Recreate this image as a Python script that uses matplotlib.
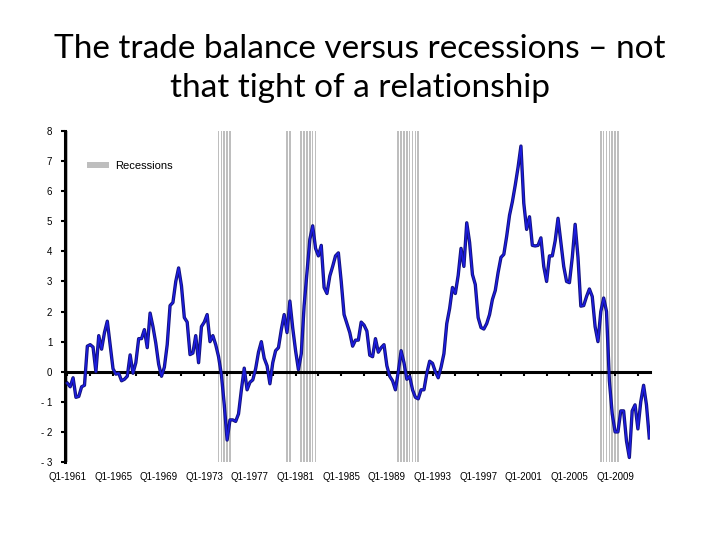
import matplotlib
matplotlib.use('Agg')
import matplotlib.pyplot as plt

# Trade balance (% of GDP), quarterly from Q1-1961
balance = [
    -0.38, -0.5, -0.2, -0.85, -0.82, -0.5, -0.45, 0.85, 0.9, 0.82,
    0.0, 1.2, 0.75, 1.3, 1.68, 0.9, 0.1, -0.08, -0.05, -0.3,
    -0.25, -0.15, 0.56, -0.05, 0.3, 1.1, 1.1, 1.4, 0.8, 1.95,
    1.5, 0.95, 0.25, -0.15, 0.15, 0.9, 2.2, 2.3, 3.0, 3.45,
    2.85, 1.8, 1.65, 0.57, 0.62, 1.2, 0.3, 1.5, 1.65, 1.9,
    1.0, 1.2, 0.9, 0.5, -0.1, -1.1, -2.27, -1.6, -1.6, -1.65,
    -1.4, -0.6, 0.12, -0.6, -0.35, -0.27, 0.1, 0.65, 1.0, 0.45,
    0.2, -0.4, 0.3, 0.7, 0.8, 1.4, 1.9, 1.3, 2.35, 1.45,
    0.7, 0.07, 0.6, 2.2, 3.3, 4.4, 4.85, 4.1, 3.85, 4.2,
    2.8, 2.6, 3.18, 3.5, 3.85, 3.95, 3.0, 1.9, 1.6, 1.3,
    0.85, 1.05, 1.05, 1.65, 1.55, 1.35, 0.55, 0.5, 1.1, 0.65,
    0.8, 0.9, 0.2, -0.15, -0.3, -0.6, 0.0, 0.7, 0.3, -0.25,
    -0.15, -0.6, -0.85, -0.9, -0.6, -0.6, -0.05, 0.35, 0.28, 0.0,
    -0.2, 0.15, 0.6, 1.6, 2.1, 2.8, 2.6, 3.2, 4.1, 3.5,
    4.95, 4.3, 3.23, 2.9, 1.8, 1.47, 1.42, 1.6, 1.9, 2.4,
    2.7, 3.3, 3.8, 3.9, 4.5, 5.2, 5.65, 6.2, 6.8, 7.5,
    5.6, 4.73, 5.15, 4.2, 4.18, 4.2, 4.45, 3.5, 3.0, 3.85,
    3.85, 4.35, 5.1, 4.3, 3.5, 3.0, 2.96, 3.8, 4.9, 3.8,
    2.18, 2.2, 2.5, 2.75, 2.5, 1.5, 1.0, 2.0, 2.45, 2.0,
    -0.3, -1.4, -2.0, -2.0, -1.3, -1.3, -2.3, -2.85, -1.3, -1.1,
    -1.9, -1.0, -0.45, -1.1, -2.2,
]
quarters = list(range(len(balance)))

# quarters (index from Q1-1961) flagged as recession
recession_q = [0, 53, 54, 55, 56, 57, 77, 78, 82, 83, 84, 85, 86, 87,
               116, 117, 118, 119, 120, 121, 122, 123,
               187, 188, 189, 190, 191, 192, 193]

y_min, y_max = -3, 8
y_ticks = [-3, -2, -1, 0, 1, 2, 3, 4, 5, 6, 7, 8]
y_labels = ['- 3', '- 2', '- 1', '0', '1', '2', '3', '4', '5', '6', '7', '8']
x_label_years = list(range(1961, 2010, 4))
x_labels = [f'Q1-{y}' for y in x_label_years]
x_label_pos = [(y - 1961) * 4 for y in x_label_years]

fig = plt.figure(figsize=(7.2, 5.4), dpi=100)
ax = fig.add_axes([0.090, 0.1444, 0.813, 0.613])

ax.bar(recession_q, [y_max - y_min] * len(recession_q), bottom=y_min,
       width=0.55, color='#BEBEBE', label='Recessions', zorder=1)

ax.plot(quarters, balance, color='#12127A', linewidth=2.4, zorder=3)
ax.plot(quarters, balance, color='#1C1CE0', linewidth=1.1, zorder=4)

ax.set_xlim(-0.9, 204.3)
ax.set_ylim(y_min, y_max)

# y axis
ax.spines['left'].set_linewidth(2.2)
ax.spines['left'].set_color('black')
ax.spines['right'].set_visible(False)
ax.spines['top'].set_visible(False)
ax.set_yticks(y_ticks)
ax.set_yticklabels(y_labels, family='Liberation Sans', fontsize=7)
ax.tick_params(axis='y', length=3, width=1.5, pad=6)

# x axis crosses at zero
ax.spines['bottom'].set_position(('data', 0))
ax.spines['bottom'].set_linewidth(2.2)
ax.spines['bottom'].set_zorder(2)
ax.set_xticks(range(0, 205, 8))
ax.tick_params(axis='x', length=3, width=1.5, labelbottom=False)

sec = ax.secondary_xaxis('bottom')
sec.set_xticks(x_label_pos)
sec.set_xticklabels(x_labels, family='Liberation Sans', fontsize=7)
sec.spines['bottom'].set_visible(False)
sec.tick_params(length=0, pad=7)

ax.legend(loc='center left', bbox_to_anchor=(0.038, 0.894), frameon=False,
          prop={'family': 'Liberation Sans', 'size': 8},
          handlelength=2.0, handleheight=0.45, handletextpad=0.5,
          borderpad=0, borderaxespad=0)

fig.text(0.5, 0.873, 'The trade balance versus recessions \u2013 not\nthat tight of a relationship',
         ha='center', va='center', fontsize=24, family='Lato', linespacing=1.38)

fig.savefig('out.png', dpi=100)
